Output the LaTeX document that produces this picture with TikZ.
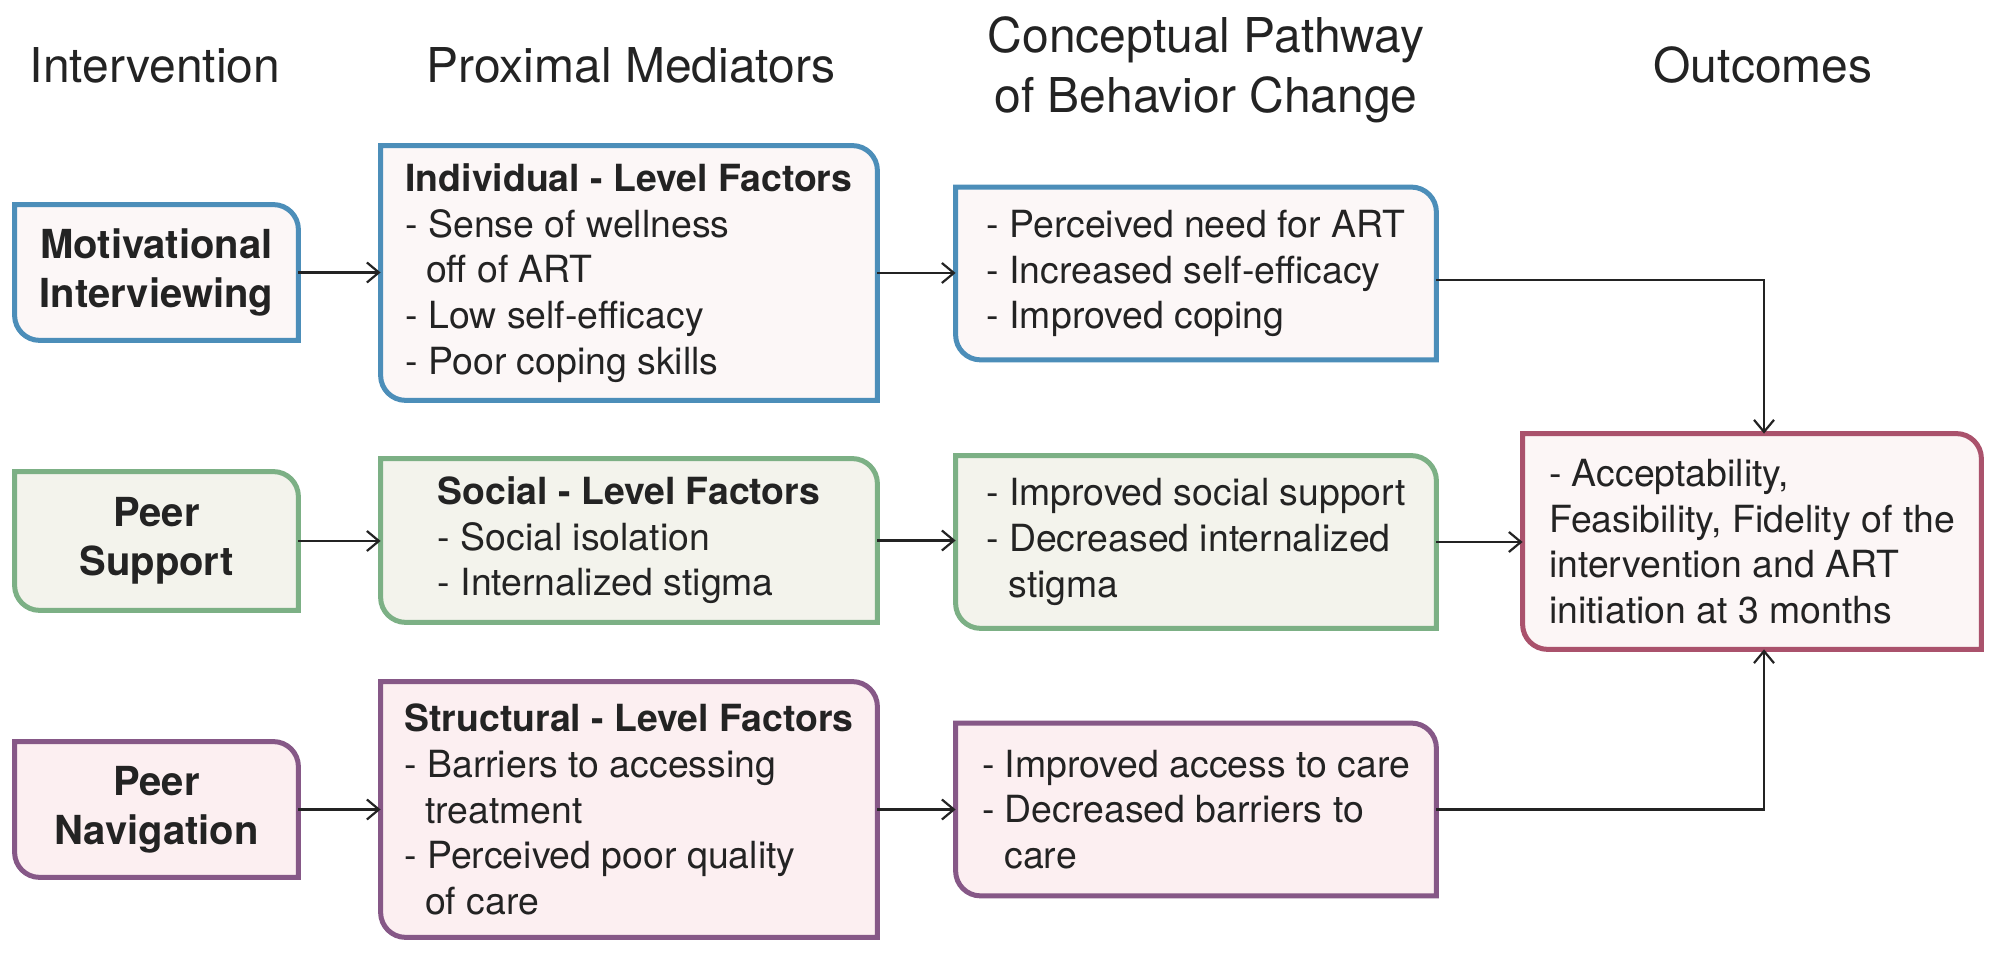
\documentclass[tikz,border=0pt]{standalone}
\usepackage{fontspec}
\setmainfont{TeX Gyre Heros}
\usetikzlibrary{arrows.meta,backgrounds}
\definecolor{ink}{RGB}{35,35,35}
\definecolor{miblue}{RGB}{76,142,185}
\definecolor{mifill}{RGB}{252,247,247}
\definecolor{psgreen}{RGB}{124,176,133}
\definecolor{psfill}{RGB}{243,243,236}
\definecolor{pnpurple}{RGB}{134,88,135}
\definecolor{pnfill}{RGB}{252,239,241}
\definecolor{outrose}{RGB}{170,82,108}
\definecolor{outfill}{RGB}{252,246,246}

% frame with two round corners (top right, bottom left)
\newcommand{\tabframe}[3]{%
  \path[draw=#2, fill=#3, line width=2.5pt]
    (#1.north west) -- ([xshift=-12.5pt]#1.north east)
    arc[start angle=90, end angle=0, radius=12.5pt]
    -- (#1.south east) -- ([xshift=12.5pt]#1.south west)
    arc[start angle=270, end angle=180, radius=12.5pt] -- cycle;}

\tikzset{
  head/.style={text=ink, inner sep=0pt, align=center, font=\fontsize{24}{30}\selectfont},
  intv/.style={text=ink, inner sep=0pt, align=center, minimum width=141.5pt,
    font=\fontsize{20}{24.5}\selectfont\bfseries},
  medi/.style={text=ink, inner sep=0pt, align=left, minimum width=248pt,
    font=\fontsize{18.7}{22.8}\selectfont},
  pathw/.style={medi, minimum width=240pt, minimum height=86pt},
  conn/.style={draw=ink, line width=1.1pt, -{Straight Barb[length=6pt,width=10pt]}}
}

\begin{document}
\begin{tikzpicture}[x=0.5pt, y=-0.5pt]
  \useasboundingbox (0,0) rectangle (2010,961);

  % column headers
  \node[head, anchor=base] (h1) at (155,83) {Intervention};
  \node[head, anchor=base] (h2) at (631,83) {Proximal Mediators};
  \node[head] (h3) at (1206,70) {Conceptual Pathway\\of Behavior Change};
  \node[head, anchor=base] (h4) at (1763,83) {Outcomes};

  % interventions
  \node[intv, minimum height=67.5pt] (mi) at (156.5,272.5) {Motivational\\Interviewing};
  \node[intv, minimum height=69pt] (ps) at (156.5,541) {Peer\\Support};
  \node[intv, minimum height=67.5pt] (pn) at (156.5,809.5) {Peer\\Navigation};

  % mediators
  \node[medi, minimum height=127pt] (ind) at (629,273)
    {\textbf{Individual - Level Factors}\\- Sense of wellness\\\hspace*{0.55em}off of ART\\- Low self-efficacy\\- Poor coping skills};
  \node[medi, minimum height=81.5pt] (soc) at (629,540.5)
    {\textbf{Social - Level Factors}\\- Social isolation\\- Internalized stigma};
  \node[medi, minimum height=127.5pt] (str) at (629,809.5)
    {\textbf{Structural - Level Factors}\\- Barriers to accessing\\\hspace*{0.55em}treatment\\- Perceived poor quality\\\hspace*{0.55em}of care};

  % pathway of change
  \node[pathw] (pp) at (1196,273.5)
    {- Perceived need for ART\\- Increased self-efficacy\\- Improved coping};
  \node[pathw] (sp) at (1196,542)
    {- Improved social support\\- Decreased internalized\\\hspace*{0.6em}stigma};
  \node[pathw] (ap) at (1196,809.5)
    {- Improved access to care\\- Decreased barriers to\\\hspace*{0.6em}care};

  % outcomes
  \node[medi, minimum width=229pt, minimum height=107.5pt] (out) at (1752,541.5)
    {- Acceptability,\\Feasibility, Fidelity of the\\intervention and ART\\initiation at 3 months};

  \begin{scope}[on background layer]
    \fill[white] (0,0) rectangle (2010,961);
    \tabframe{mi}{miblue}{mifill}
    \tabframe{ind}{miblue}{mifill}
    \tabframe{pp}{miblue}{mifill}
    \tabframe{ps}{psgreen}{psfill}
    \tabframe{soc}{psgreen}{psfill}
    \tabframe{sp}{psgreen}{psfill}
    \tabframe{pn}{pnpurple}{pnfill}
    \tabframe{str}{pnpurple}{pnfill}
    \tabframe{ap}{pnpurple}{pnfill}
    \tabframe{out}{outrose}{outfill}
  \end{scope}

  % connectors
  \coordinate (kneeA) at (1764,280);
  \coordinate (kneeB) at (1764,809.5);
  \draw[conn] (mi.east) -- (mi.east -| ind.west);
  \draw[conn] (ind.east) -- (ind.east -| pp.west);
  \draw[conn] (ps.east) -- (ps.east -| soc.west);
  \draw[conn] (soc.east) -- (soc.east -| sp.west);
  \draw[conn] (sp.east) -- (sp.east -| out.west);
  \draw[conn] (pn.east) -- (pn.east -| str.west);
  \draw[conn] (str.east) -- (str.east -| ap.west);
  \draw[conn] (pp.east |- kneeA) -| (out.north -| kneeA);
  \draw[conn] (ap.east) -| (out.south -| kneeB);
\end{tikzpicture}
\end{document}
